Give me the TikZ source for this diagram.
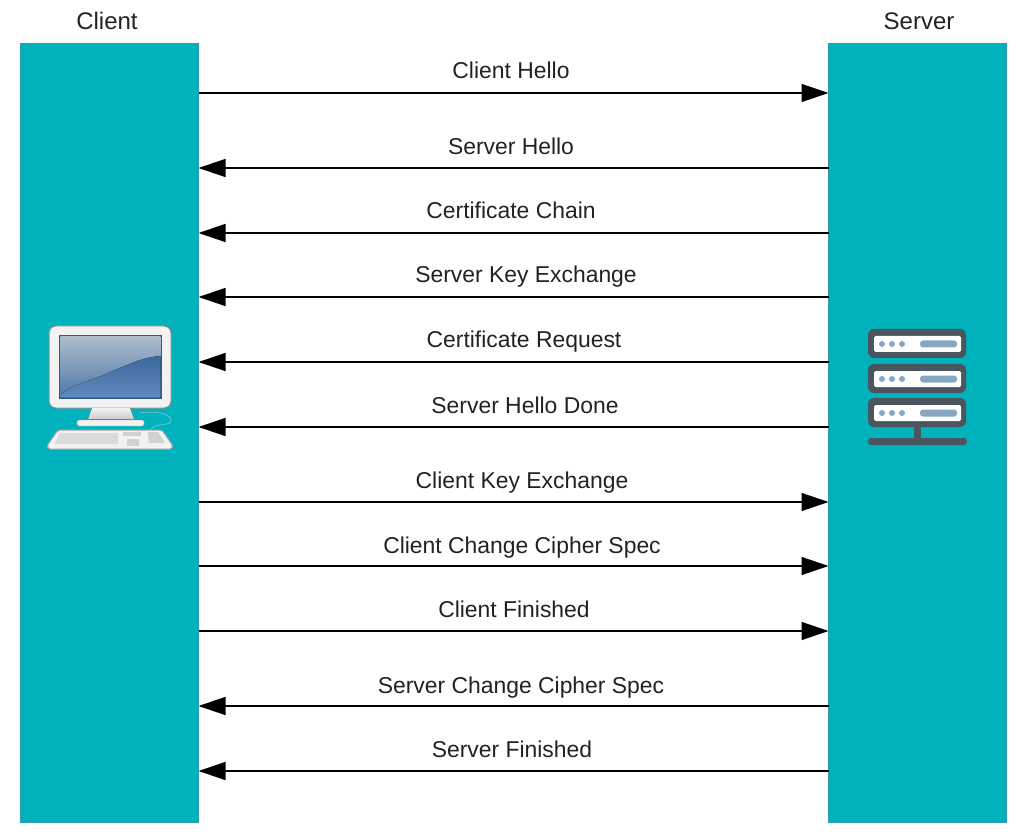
\documentclass[tikz,border=0pt]{standalone}
\usepackage{fontspec}
\setmainfont{Liberation Sans}
\usepackage{tikz}
\usetikzlibrary{arrows.meta,positioning,calc}
\definecolor{hostfill}{HTML}{00B2BC}
\definecolor{hostedge}{HTML}{2E9BAA}
\definecolor{rackdark}{HTML}{4A5560}
\definecolor{rackblue}{HTML}{86A6C4}
\definecolor{txt}{HTML}{222222}
\definecolor{screenedge}{HTML}{2F5A94}
\definecolor{screentop}{HTML}{AEBCCB}
\definecolor{screenmid}{HTML}{4F77A8}
\definecolor{screenlow}{HTML}{3B689D}
\definecolor{screenglow}{HTML}{5F8BBD}
\definecolor{cable}{HTML}{6FC4D6}

\begin{document}
\begin{tikzpicture}[x=1pt,y=-1pt,
		host/.style={draw=hostedge, fill=hostfill, line width=0.8pt, minimum width=178pt, minimum height=779pt, inner sep=0pt, outer sep=0pt},
		title/.style={font=\fontsize{24}{28}\selectfont, text=txt, inner sep=0pt},
		msg/.style={font=\fontsize{22.9}{27}\selectfont, text=txt, inner sep=0pt, anchor=base},
		arr/.style={-{Triangle[length=27pt,width=18pt]}, line width=1.4pt},
		rack/.style={fill=rackdark, rounded corners=6pt},
		slot/.style={fill=white, rounded corners=1.5pt}]
	\useasboundingbox (0,0) rectangle (1023,834);

	\node[host] (client) at (109.5,432.5) {};
	\node[host] (server) at (917.5,432.5) {};
	\node[title] (clientname) at (107,21) {Client};
	\node[title] (servername) at (919,21) {Server};

	\node[msg] (m1) at (511,79) {Client Hello};
	\node[msg] (m2) at (511,155) {Server Hello};
	\node[msg] (m3) at (511,219) {Certificate Chain};
	\node[msg] (m4) at (526,283) {Server Key Exchange};
	\node[msg] (m5) at (524,348) {Certificate Request};
	\node[msg] (m6) at (525,413) {Server Hello Done};
	\node[msg] (m7) at (522,488) {Client Key Exchange};
	\node[msg] (m8) at (522,553) {Client Change Cipher Spec};
	\node[msg] (m9) at (514,617) {Client Finished};
	\node[msg] (m10) at (521,693) {Server Change Cipher Spec};
	\node[msg] (m11) at (512,757) {Server Finished};

	\coordinate (r1) at (0,93);
	\coordinate (r2) at (0,168);
	\coordinate (r3) at (0,233);
	\coordinate (r4) at (0,297);
	\coordinate (r5) at (0,362);
	\coordinate (r6) at (0,427);
	\coordinate (r7) at (0,502);
	\coordinate (r8) at (0,566);
	\coordinate (r9) at (0,631);
	\coordinate (r10) at (0,706);
	\coordinate (r11) at (0,771);

	\draw[arr] (client.east |- r1) -- (server.west |- r1);
	\draw[arr] (server.west |- r2) -- (client.east |- r2);
	\draw[arr] (server.west |- r3) -- (client.east |- r3);
	\draw[arr] (server.west |- r4) -- (client.east |- r4);
	\draw[arr] (server.west |- r5) -- (client.east |- r5);
	\draw[arr] (server.west |- r6) -- (client.east |- r6);
	\draw[arr] (client.east |- r7) -- (server.west |- r7);
	\draw[arr] (client.east |- r8) -- (server.west |- r8);
	\draw[arr] (client.east |- r9) -- (server.west |- r9);
	\draw[arr] (server.west |- r10) -- (client.east |- r10);
	\draw[arr] (server.west |- r11) -- (client.east |- r11);

	% computer
	\draw[draw=black!45, fill=white!95!black, line width=1pt, rounded corners=7pt] (49,326) rectangle (171,408);
	\fill[top color=black!5, bottom color=black!20] (92,408) -- (130,408) -- (134,419) -- (88,419) -- cycle;
	\draw[draw=black!35, fill=white!95!black, rounded corners=2pt] (77,420) rectangle (144,426);
	\draw[draw=cable, line width=0.8pt] (140,413) .. controls (150,411) and (170,412) .. (171,420) .. controls (172,427) and (152,422) .. (150,431);
	\draw[draw=black!35, fill=white!95!black, line width=1pt, rounded corners=2pt, line join=round] (58,430) -- (162,430) -- (173,446) -- (172,449) -- (48,449) -- (47,446) -- cycle;
	\fill[black!14] (60,433) -- (118,433) -- (118,444) -- (54,444) -- cycle;
	\fill[black!18] (123,432) rectangle (141,436);
	\fill[black!18] (127,439) rectangle (139,446);
	\fill[black!18] (148,432) -- (158,432) -- (165,443) -- (149,443) -- cycle;
	\fill[screenedge] (59,335) rectangle (162,399);
	\fill[top color=screentop, bottom color=screenmid] (60.5,336.5) rectangle (160.5,397.5);
	\fill[top color=screenlow, bottom color=screenglow] (160.5,356) .. controls (135,358) and (115,372) .. (90,380) .. controls (80,384) and (70,386) .. (60.5,395) -- (60.5,397.5) -- (160.5,397.5) -- cycle;

	% server
	\foreach \ytop in {329,364,398}{
		\fill[rack] (868,\ytop) rectangle ++(98,29);
		\fill[slot] (874,\ytop+7) rectangle ++(87,16);
		\foreach \xdot in {882,892,902}
			\fill[rackblue] (\xdot,\ytop+15) circle (3);
		\fill[rackblue, rounded corners=3pt] (920,\ytop+11.5) rectangle ++(37,7);
	}
	\fill[rackdark] (914,426) rectangle (921,440);
	\fill[rackdark, rounded corners=3pt] (868,438) rectangle (967,445);
\end{tikzpicture}
\end{document}
